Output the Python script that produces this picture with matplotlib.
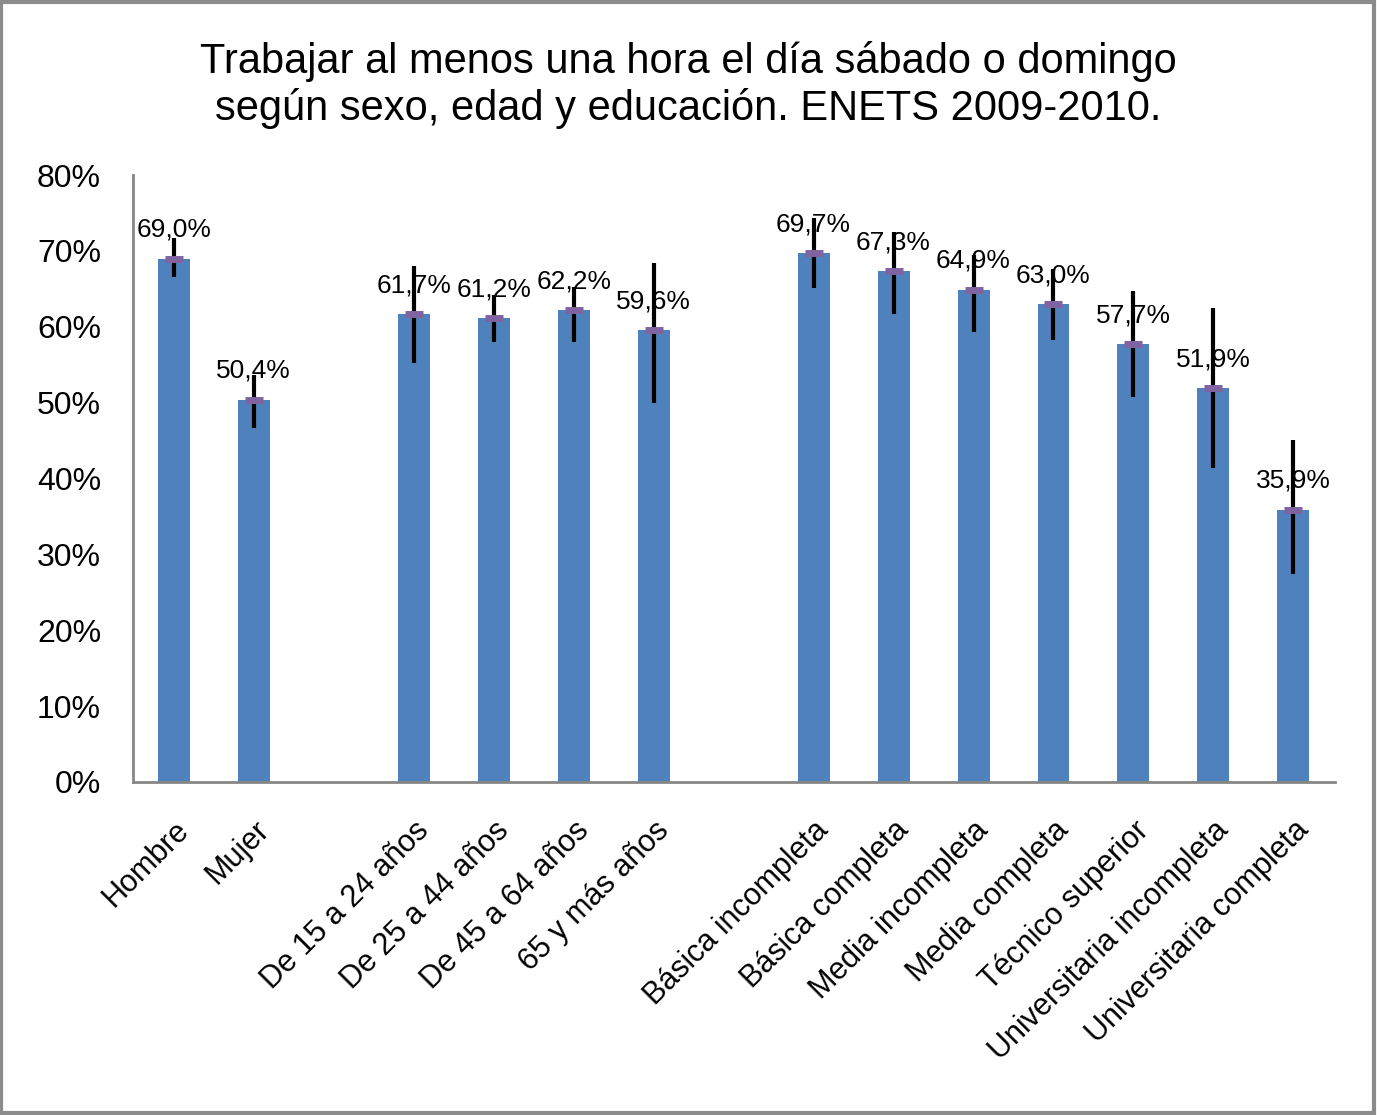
import numpy as np
import matplotlib.pyplot as plt
from matplotlib.patches import Rectangle

plt.rcParams['font.family'] = ['Liberation Sans', 'DejaVu Sans']

# Data (proportions), blank slots separate the three groups
categories = ['Hombre', 'Mujer', '',
              'De 15 a 24 años', 'De 25 a 44 años', 'De 45 a 64 años', '65 y más años', '',
              'Básica incompleta', 'Básica completa', 'Media incompleta', 'Media completa',
              'Técnico superior', 'Universitaria incompleta', 'Universitaria completa']
values = [0.690, 0.504, np.nan,
          0.617, 0.612, 0.622, 0.596, np.nan,
          0.697, 0.673, 0.649, 0.630, 0.577, 0.519, 0.359]
ci_low = [0.665, 0.466, np.nan,
          0.552, 0.580, 0.580, 0.500, np.nan,
          0.651, 0.617, 0.593, 0.582, 0.507, 0.414, 0.274]
ci_high = [0.717, 0.536, np.nan,
           0.680, 0.642, 0.652, 0.684, np.nan,
           0.743, 0.725, 0.694, 0.676, 0.647, 0.625, 0.451]

x = np.arange(len(categories))
vals = np.array(values)
lo = np.array(ci_low)
hi = np.array(ci_high)

fig = plt.figure(figsize=(13.77, 11.15), dpi=100)
ax = fig.add_axes([0.0966, 0.2987, 0.8729, 0.5443])

ax.bar(x, vals, width=0.4, color='#4F81BD', zorder=2)
mask = ~np.isnan(vals)
ax.vlines(x[mask], lo[mask], hi[mask], color='black', linewidth=3, zorder=3)
ax.plot(x[mask], vals[mask], linestyle='none', marker='_', markersize=13,
        markeredgewidth=5, color='#8064A2', zorder=4)

# data labels
for xi, v in zip(x[mask], vals[mask]):
    ax.annotate(f"{v*100:.1f}%".replace('.', ','), (xi, v), xytext=(0, 12),
                textcoords='offset points', ha='center', va='bottom', fontsize=19)

ax.set_xlim(-0.51, 14.52)
ax.set_ylim(0, 0.8)
ticks = np.arange(0, 0.81, 0.1)
ax.set_yticks(ticks)
ax.set_yticklabels([f"{int(round(t*100))}%" for t in ticks], fontsize=23)
ax.set_xticks(x)
ax.set_xticklabels(categories, rotation=45, ha='right', rotation_mode='anchor', fontsize=22)
ax.tick_params(axis='y', length=0, pad=23)
ax.tick_params(axis='x', length=0, pad=24)

for s in ['top', 'right']:
    ax.spines[s].set_visible(False)
for s in ['left', 'bottom']:
    ax.spines[s].set_color('#868686')
    ax.spines[s].set_linewidth(2)

fig.text(0.5, 0.9235, "Trabajar al menos una hora el día sábado o domingo\nsegún sexo, edad y educación. ENETS 2009-2010.",
         ha='center', va='center', fontsize=30, linespacing=1.2)

fig.patches.append(Rectangle((0.001, 0.002), 0.997, 0.996, transform=fig.transFigure,
                             fill=False, edgecolor='#8C8C8C', linewidth=3))

plt.savefig('out.png', dpi=100)
